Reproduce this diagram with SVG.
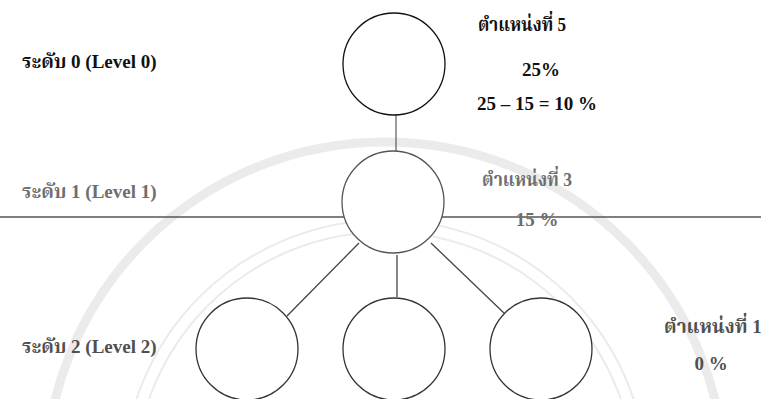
<svg xmlns="http://www.w3.org/2000/svg" width="761" height="399" viewBox="0 0 761 399">
<style>
.t{font-family:"Liberation Serif","DejaVu Serif","Noto Serif Thai","Noto Sans Thai",serif;font-weight:bold;font-size:19px}
.k{fill:#111}
.g1{fill:#6e6e6e}
.g2{fill:#505050}
.node{fill:#fff;stroke-width:1.3}
.wm{fill:none;stroke:#ebebeb}
</style>
<g id="watermark">
<circle class="wm" cx="385" cy="482" r="340" stroke-width="9"/>
<circle class="wm" cx="385" cy="482" r="262" stroke-width="2"/>
<circle class="wm" cx="385" cy="482" r="250" stroke-width="2"/>
</g>
<g id="divider"><line x1="0" y1="217" x2="761" y2="217" stroke="#555" stroke-width="1.5"/></g>
<g id="connectors" stroke-width="1.3" fill="none">
<line x1="396" y1="115" x2="396" y2="151" stroke="#666"/>
<line x1="359" y1="243" x2="287" y2="316" stroke="#444"/>
<line x1="397" y1="255" x2="397" y2="297" stroke="#444"/>
<line x1="431" y1="243" x2="505" y2="314" stroke="#444"/>
</g>
<g id="n-level0"><circle class="node" cx="394" cy="64" r="51" stroke="#111" stroke-width="1.6"/></g>
<g id="n-level1"><circle class="node" cx="393" cy="202" r="51" stroke="#555" fill="none"/></g>
<g id="n-level2-a"><circle class="node" cx="247" cy="349" r="51" stroke="#333"/></g>
<g id="n-level2-b"><circle class="node" cx="394" cy="349" r="51" stroke="#333"/></g>
<g id="n-level2-c"><circle class="node" cx="541" cy="349" r="51" stroke="#333"/></g>
<g id="labels">
<text class="t k" x="22" y="68">ระดับ 0 (Level 0)</text>
<text class="t g1" x="22" y="198">ระดับ 1 (Level 1)</text>
<text class="t g2" x="22" y="353">ระดับ 2 (Level 2)</text>
<text class="t k" x="478" y="31" textLength="88" lengthAdjust="spacingAndGlyphs">ตำแหน่งที่ 5</text>
<text class="t k" x="541" y="76" text-anchor="middle">25%</text>
<text class="t k" x="537" y="110" text-anchor="middle">25 – 15 = 10 %</text>
<text class="t g1" x="482" y="186" textLength="90" lengthAdjust="spacingAndGlyphs">ตำแหน่งที่ 3</text>
<text class="t g1" x="537" y="226" text-anchor="middle">15 %</text>
<text class="t g2" x="664" y="333" font-size="17">ตำแหน่งที่ 1</text>
<text class="t g2" x="711" y="370" text-anchor="middle">0 %</text>
</g>
</svg>
